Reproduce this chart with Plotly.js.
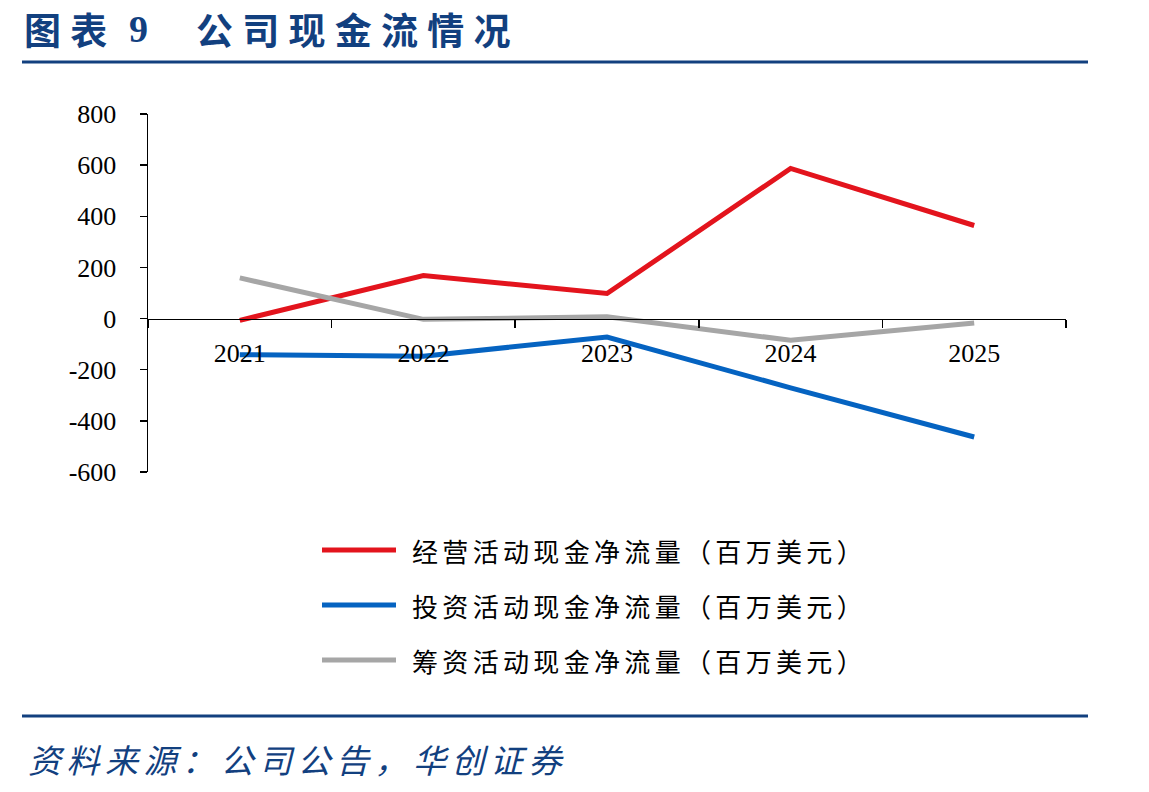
<!DOCTYPE html>
<html>
<head>
<meta charset="utf-8">
<script src="https://cdn.plot.ly/plotly-3.0.1.min.js"></script>
<style>html,body{margin:0;padding:0;background:#fff;}#chart{width:1149px;height:792px;}</style>
</head>
<body>
<div id="chart"></div>
<script>
const years = ['2021', '2022', '2023', '2024', '2025'];
const operating = [-7, 168, 98, 587, 364];
const investing = [-141, -147, -72, -271, -463];
const financing = [159, -3, 7, -85, -17];
const seriesNames = ['经营活动现金净流量（百万美元）', '投资活动现金净流量（百万美元）', '筹资活动现金净流量（百万美元）'];
const seriesColors = ['#E3141D', '#0563C1', '#A6A6A6'];
const yTickVals = [-600, -400, -200, 0, 200, 400, 600, 800];
const yTickText = ['-600', '-400', '-200', '0', '200', '400', '600', '800'];
const titleLabel = '图表';
const titleNumber = '9';
const titleText = '公司现金流情况';
const sourceText = '资料来源：公司公告，华创证券';

// spread characters a little (visual letter spacing)
const spread = (s, sp) => Array.from(s).join(sp);

const seriesValues = [operating, investing, financing];
const traces = seriesValues.map((vals, i) => ({
  type: 'scatter', mode: 'lines', x: years, y: vals, name: seriesNames[i],
  line: {color: seriesColors[i], width: 5}, showlegend: false, cliponaxis: false
}));

const W = 1149, H = 792, L = 148, R = 83, T = 114, B = 320;
const pw = W - L - R, ph = H - T - B;
const px = x => (x - L) / pw;
const py = y => (H - B - y) / ph;
const navy = '#12407F';

const shapes = [
  {type: 'line', xref: 'paper', yref: 'paper', x0: px(22), x1: px(1088), y0: py(62), y1: py(62), line: {color: navy, width: 3}},
  {type: 'line', xref: 'paper', yref: 'paper', x0: px(22), x1: px(1088), y0: py(716), y1: py(716), line: {color: navy, width: 3}}
];
const annotations = [
  {xref: 'paper', yref: 'paper', x: px(22), y: py(29), xanchor: 'left', yanchor: 'middle', showarrow: false,
   text: '<b>' + spread(titleLabel, '\u2005') + '</b>', font: {family: 'Noto Sans CJK SC', size: 37, color: navy}},
  {xref: 'paper', yref: 'paper', x: px(138), y: py(29), xanchor: 'center', yanchor: 'middle', showarrow: false,
   text: '<b>' + titleNumber + '</b>', font: {family: 'Liberation Serif', size: 38, color: navy}},
  {xref: 'paper', yref: 'paper', x: px(194), y: py(29), xanchor: 'left', yanchor: 'middle', showarrow: false,
   text: '<b>' + spread(titleText, '\u2005') + '</b>', font: {family: 'Noto Sans CJK SC', size: 37, color: navy}},
  {xref: 'paper', yref: 'paper', x: px(26), y: py(759), xanchor: 'left', yanchor: 'middle', showarrow: false,
   text: '<i>' + spread(sourceText, '\u2006') + '</i>', font: {family: 'Noto Sans CJK SC', size: 33, color: navy}}
];
const legendRows = [550, 605, 660];
seriesNames.forEach((nm, i) => {
  shapes.push({type: 'line', xref: 'paper', yref: 'paper', x0: px(322), x1: px(396), y0: py(legendRows[i]), y1: py(legendRows[i]),
    line: {color: seriesColors[i], width: 5}});
  annotations.push({xref: 'paper', yref: 'paper', x: px(410), y: py(legendRows[i]), xanchor: 'left', yanchor: 'middle', showarrow: false,
    text: spread(nm, '\u2006'), font: {family: 'Noto Sans CJK SC', size: 26, color: '#000'}});
});

const layout = {
  width: W, height: H,
  margin: {l: L, r: R, t: T, b: B},
  paper_bgcolor: '#fff', plot_bgcolor: '#fff',
  showlegend: false,
  font: {family: 'Liberation Serif', color: '#000'},
  xaxis: {
    type: 'category', range: [-0.5, 4.5], anchor: 'free', position: 600 / 1400,
    showline: true, linecolor: '#000', linewidth: 1.5, ticks: 'outside', tickson: 'boundaries',
    ticklen: 8, tickwidth: 1.5, tickcolor: '#000', showgrid: false, zeroline: false,
    tickfont: {family: 'Liberation Serif', size: 26, color: '#000'}, ticklabelstandoff: 11
  },
  yaxis: {
    range: [-600, 800], tickvals: yTickVals, ticktext: yTickText, showline: true, linecolor: '#000', linewidth: 1.5,
    ticks: 'outside', ticklen: 7, tickwidth: 1.5, tickcolor: '#000', showgrid: false, zeroline: false,
    tickfont: {family: 'Liberation Serif', size: 26, color: '#000'}, ticklabelstandoff: 18
  },
  shapes: shapes, annotations: annotations
};
Plotly.newPlot('chart', traces, layout, {staticPlot: true, displayModeBar: false});
</script>
</body>
</html>
